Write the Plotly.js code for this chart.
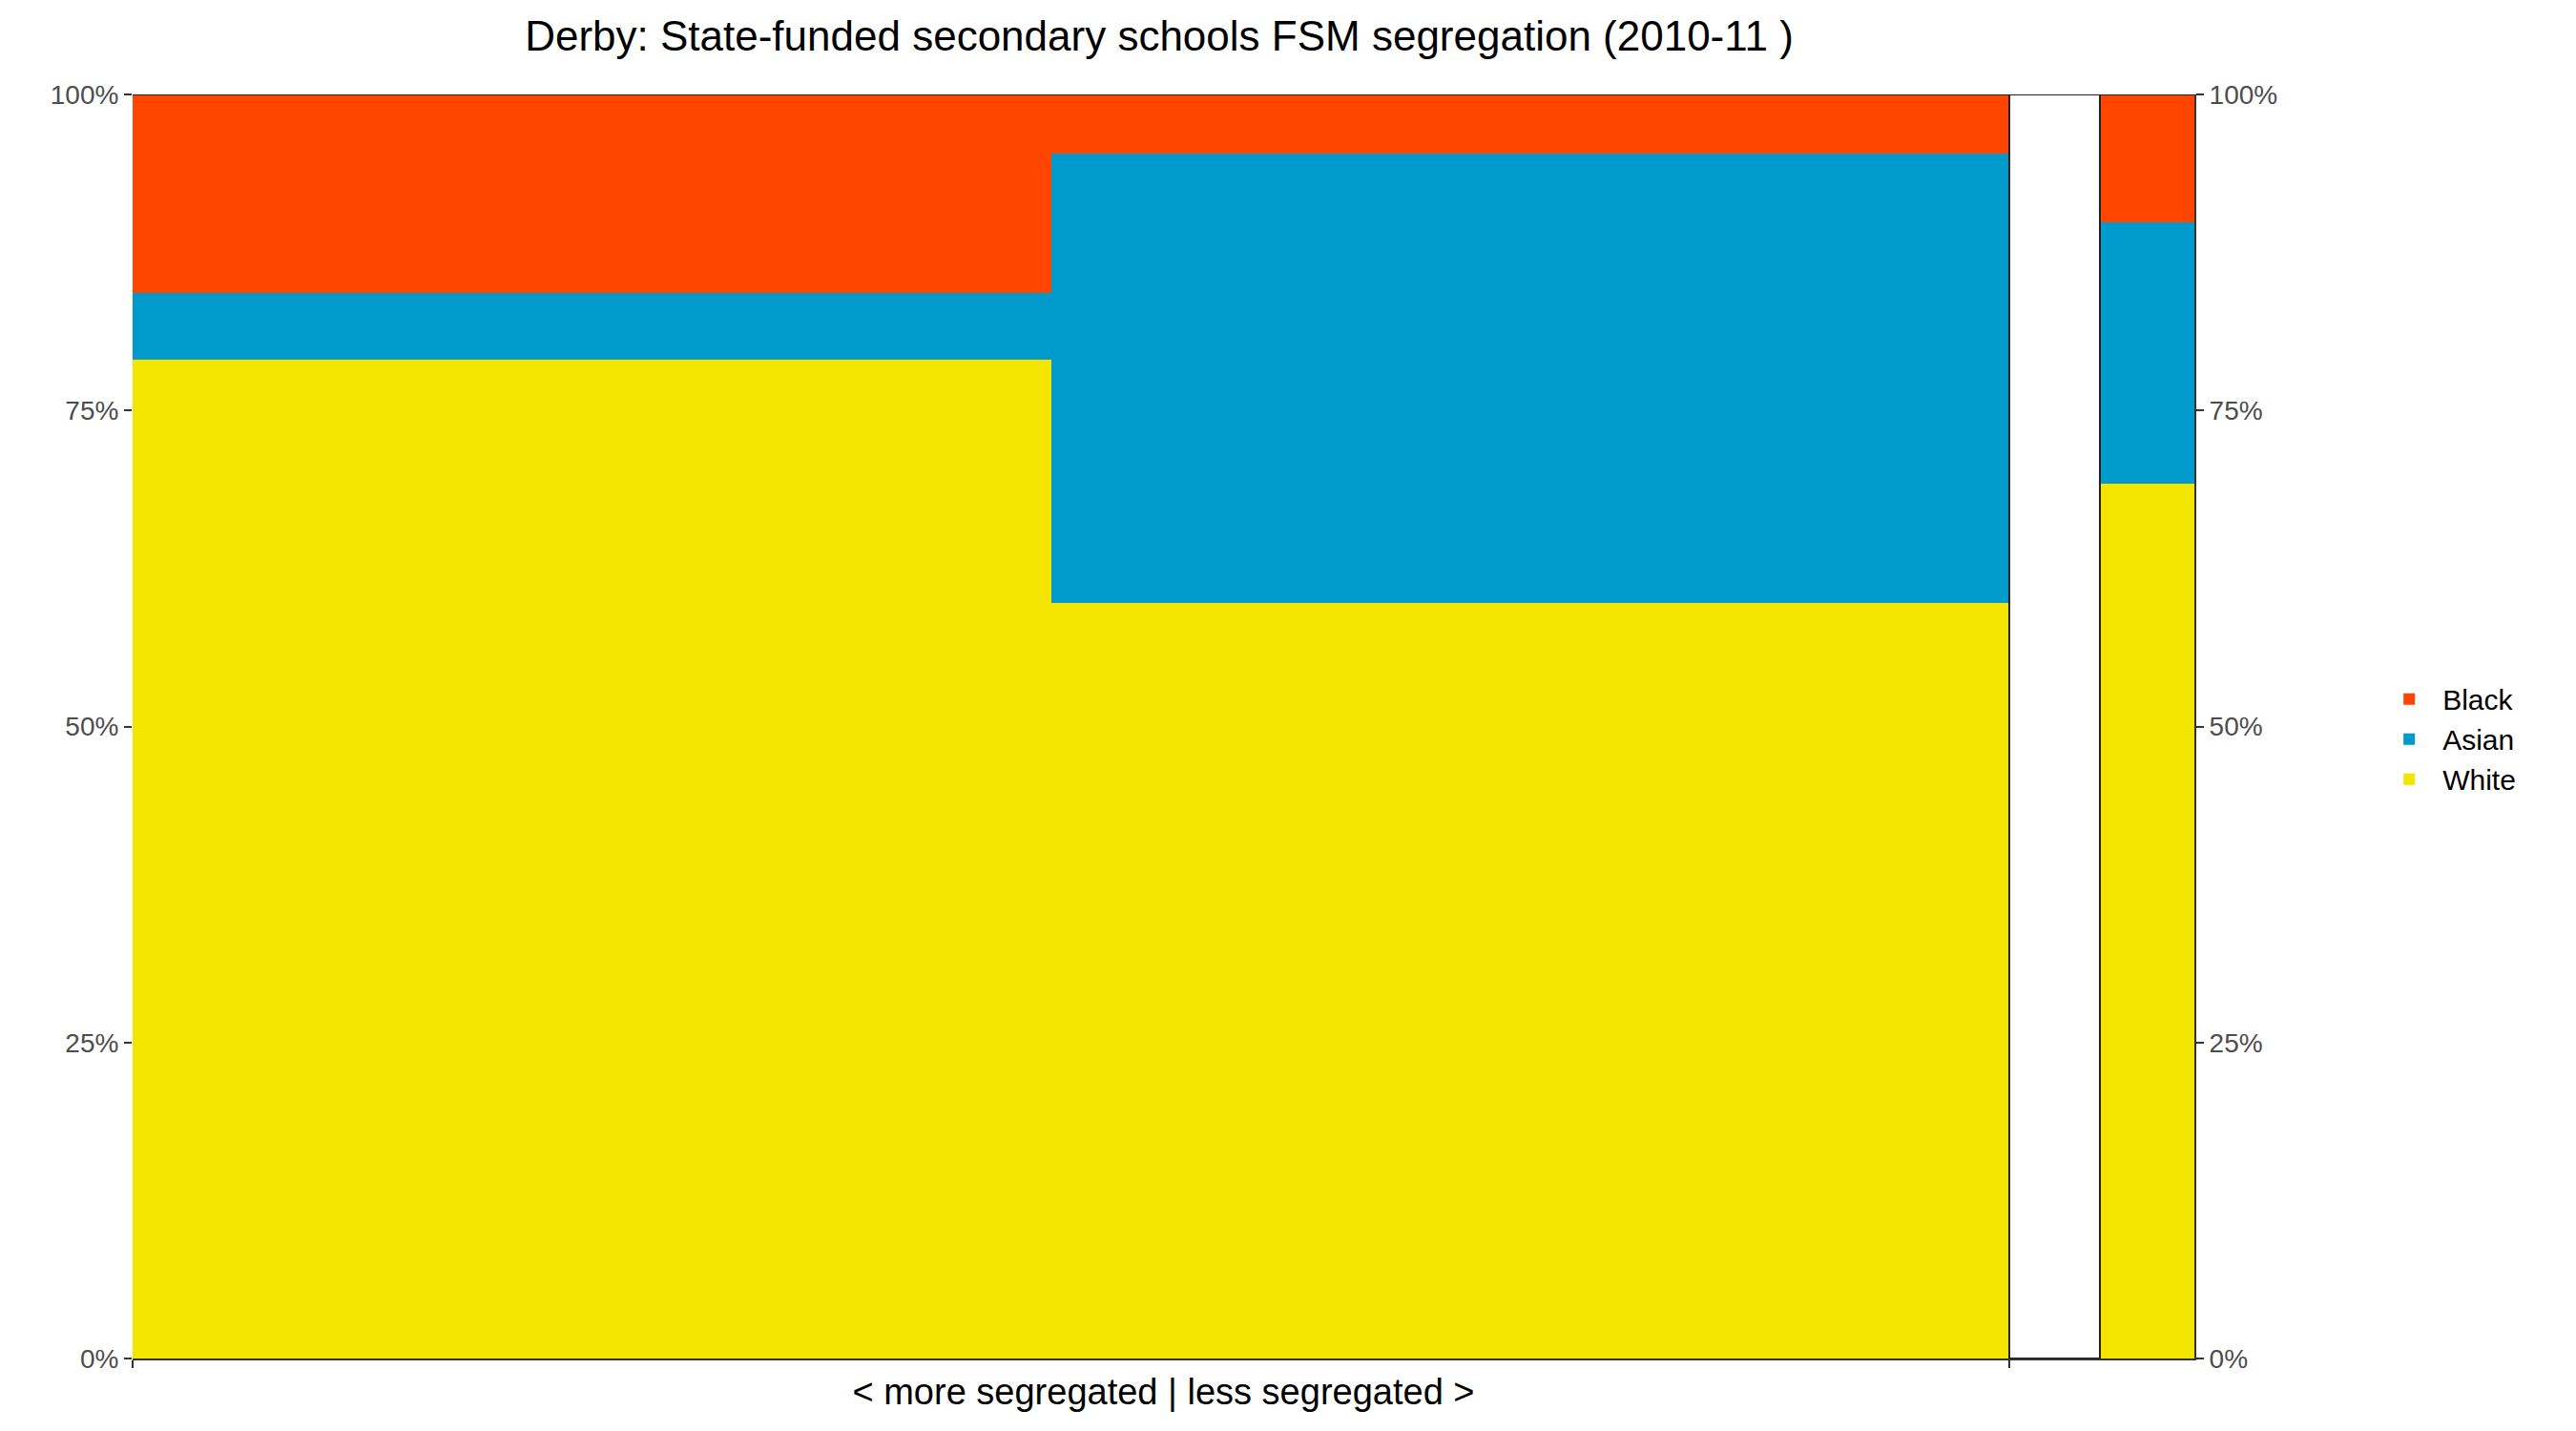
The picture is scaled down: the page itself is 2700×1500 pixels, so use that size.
<!DOCTYPE html>
<html>
<head>
<meta charset="utf-8">
<script src="https://cdn.plot.ly/plotly-3.0.1.min.js"></script>
<style>body{margin:0;background:#fff}</style>
</head>
<body>
<div id="chart" style="width:2700px;height:1500px"></div>
<script>
// column widths (share of FSM pupils) and composition per group
var widths = [0.4458, 0.4643, 0.0442, 0.0458];
var whiteVals = [79.0, 59.8, 0, 69.2];
var asianVals = [5.3, 35.5, 0, 20.7];
var blackVals = [15.7, 4.7, 0, 10.1];
var gapVals = [0, 0, 100, 0];
var bottomTicks = [0, 0.9101];

var centers = [];
var acc = 0;
for (var i = 0; i < widths.length; i++) {
	centers.push(acc + widths[i] / 2);
	acc += widths[i];
}

function series(name, vals, color) {
	return {
		type: 'bar', name: name, x: centers, y: vals, width: widths,
		marker: {color: color, line: {width: 0}}
	};
}

var data = [
	series('White', whiteVals, '#F3E500'),
	series('Asian', asianVals, '#009ACD'),
	series('Black', blackVals, '#FF4500'),
	{
		type: 'bar', name: 'gap', x: centers, y: gapVals, width: widths, showlegend: false,
		marker: {color: '#ffffff', line: {width: 2, color: '#222'}}
	},
	{ // invisible trace for the right-hand axis
		type: 'scatter', mode: 'none', x: [0, 1], y: [0, 100], yaxis: 'y2', showlegend: false, hoverinfo: 'skip'
	}
];

var tickFont = {family: 'Liberation Sans, Arial, sans-serif', size: 28, color: '#4d4d4d'};
var yTicks = [0, 25, 50, 75, 100];
var yText = ['0%', '25%', '50%', '75%', '100%'];

var layout = {
	barmode: 'stack',
	bargap: 0,
	paper_bgcolor: '#fff',
	plot_bgcolor: '#fff',
	margin: {l: 139, r: 400, t: 99, b: 76},
	title: {
		text: 'Derby: State-funded secondary schools FSM segregation (2010-11 )',
		font: {family: 'Liberation Sans, Arial, sans-serif', size: 44, color: '#000'},
		x: 0.45, xanchor: 'center', y: 0.985, yanchor: 'top'
	},
	xaxis: {
		range: [0, 1], showgrid: false, zeroline: false,
		tickvals: bottomTicks, ticktext: ['', ''], ticks: 'outside', ticklen: 8, tickwidth: 2, tickcolor: '#333',
		showline: true, linecolor: '#333', linewidth: 2,
		title: {text: '&lt; more segregated | less segregated &gt;', standoff: 10,
			font: {family: 'Liberation Sans, Arial, sans-serif', size: 38, color: '#000'}}
	},
	yaxis: {
		range: [0, 100], showgrid: false, zeroline: false,
		tickvals: yTicks, ticktext: yText, ticks: 'outside', ticklen: 8, tickwidth: 2, tickcolor: '#333',
		showline: false, tickfont: tickFont
	},
	yaxis2: {
		range: [0, 100], overlaying: 'y', side: 'right', showgrid: false, zeroline: false,
		tickvals: yTicks, ticktext: yText, ticks: 'outside', ticklen: 8, tickwidth: 2, tickcolor: '#333',
		showline: true, linecolor: '#333', linewidth: 2, tickfont: tickFont
	},
	legend: {
		x: 1.088, y: 0.49, xanchor: 'left', yanchor: 'middle', traceorder: 'reversed',
		font: {family: 'Liberation Sans, Arial, sans-serif', size: 30, color: '#000'},
		itemwidth: 60, tracegroupgap: 0
	},
	showlegend: true
};

Plotly.newPlot('chart', data, layout, {displayModeBar: false, staticPlot: true});
</script>
</body>
</html>
